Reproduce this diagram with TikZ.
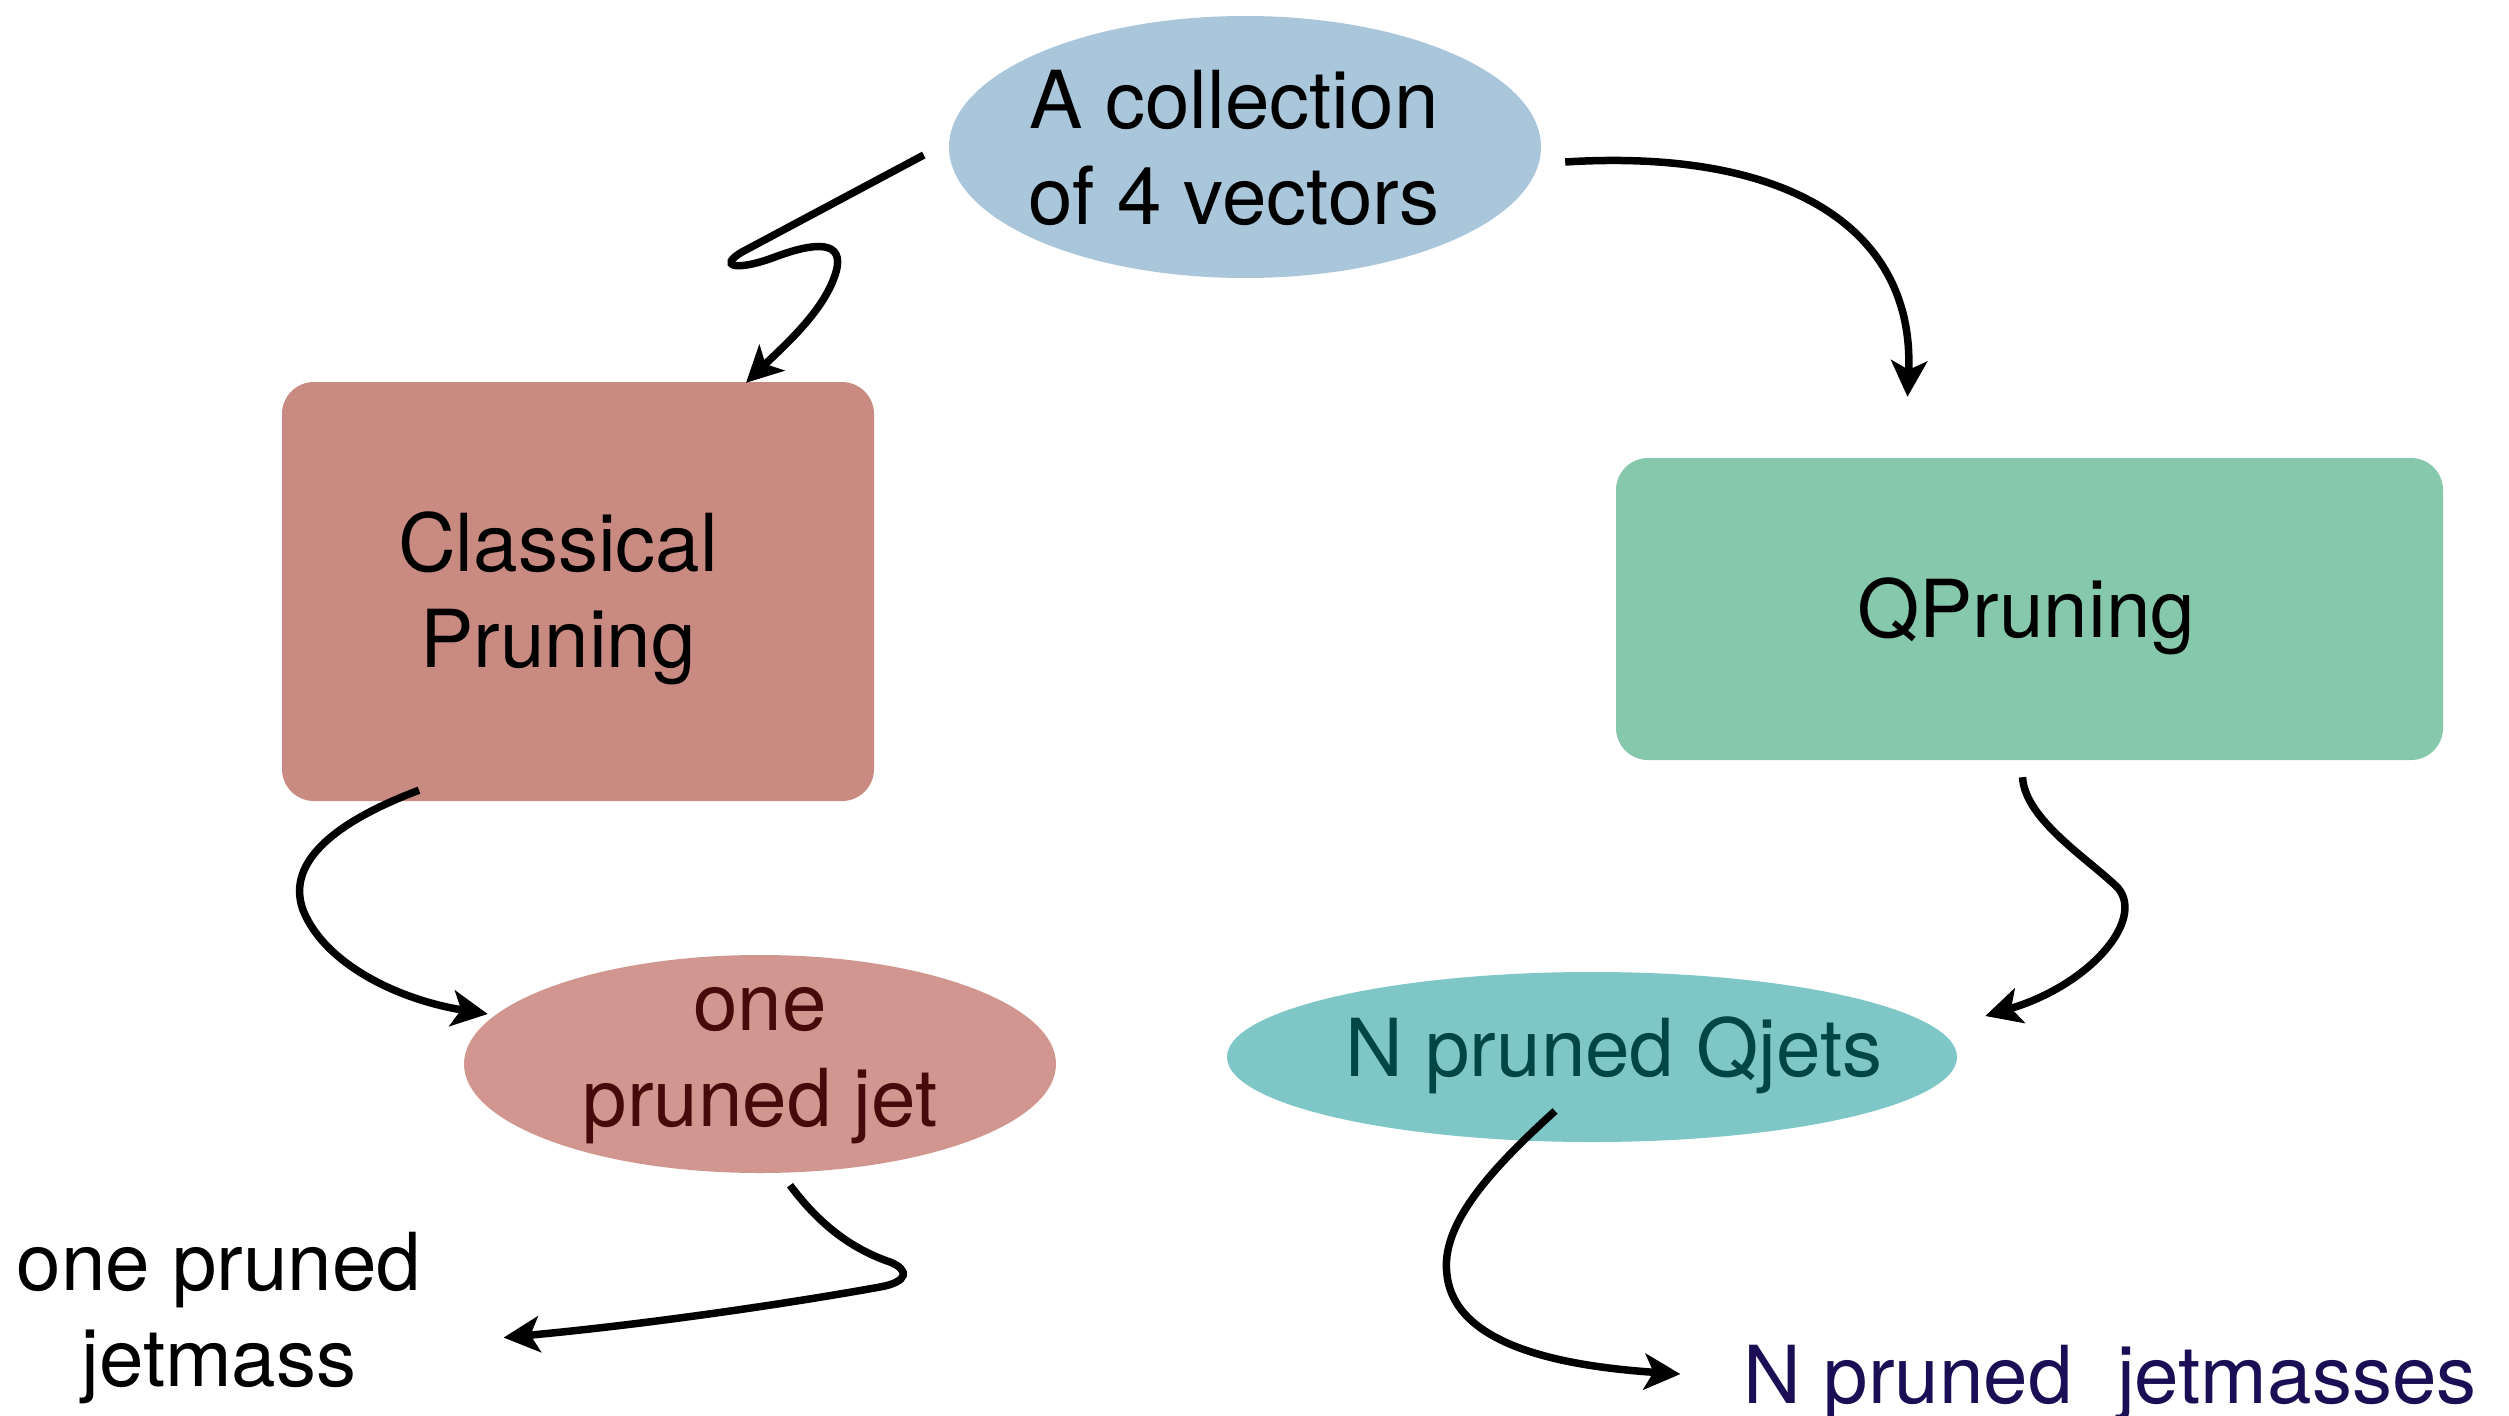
\documentclass[tikz,border=0pt]{standalone}
\usepackage{fontspec}
\setmainfont{TeX Gyre Heros}
\usetikzlibrary{shapes.geometric,arrows.meta,calc}
\definecolor{vecblue}{HTML}{A9C6DB}
\definecolor{classred}{HTML}{C98A81}
\definecolor{qgreen}{HTML}{86C8AB}
\definecolor{jetrose}{HTML}{D29690}
\definecolor{qjteal}{HTML}{7FC7C7}
\definecolor{jettext}{HTML}{470A0A}
\definecolor{qjtext}{HTML}{004646}
\definecolor{masstext}{HTML}{1B0E55}
\begin{document}
\begin{tikzpicture}[x=1pt,y=-1pt,
  txt/.style={font=\fontsize{80}{96}\selectfont, align=center, anchor=base, inner sep=0pt},
  blob/.style={ellipse, inner sep=0pt},
  card/.style={rectangle, rounded corners=32pt, inner sep=0pt},
  flow/.style={line width=7.5pt, -{Stealth[length=36pt,width=36pt,inset=9pt]}}]
\useasboundingbox[fill=white] (0,0) rectangle (2509,1416);

% input (the base of a two-line label is its last line)
\node[blob, fill=vecblue, minimum width=592pt, minimum height=262pt] (vec) at (1245,147) {};
\node[txt] (vectxt) at (1234,224) {A collection\\of 4 vectors};

% the two pruning procedures
\node[card, fill=classred, minimum width=592pt, minimum height=419pt] (cp) at (578,591.5) {};
\node[txt] (cptxt) at (558,667) {Classical\\Pruning};
\node[card, fill=qgreen, minimum width=827pt, minimum height=302pt] (qp) at (2029.5,609) {};
\node[txt] (qptxt) at (2026,637) {QPruning};

% results
\node[blob, fill=jetrose, minimum width=592pt, minimum height=218pt] (jet) at (760,1064) {};
\node[txt, text=jettext] (jettxt) at (760,1126) {one\\pruned jet};
\node[blob, fill=qjteal, minimum width=730pt, minimum height=170pt] (qj) at (1592,1057) {};
\node[txt, text=qjtext] (qjtxt) at (1614,1076) {N pruned Qjets};

% observables
\node[txt] (mass) at (219,1386) {one pruned\\jetmass};
\node[txt, text=masstext] (masses) at (2110,1403) {N pruned~~jetmasses};

% connectors
\draw[flow] ($(vec.west)+(-25,8)$) -- (742,252)
  .. controls (718,266) and (735,272) .. (775,257)
  .. controls (815,242) and (845,240) .. (836,272)
  .. controls (825,310) and (785,345) .. ($(cp.north)+(168,1)$);
\draw[flow] ($(vec.east)+(24,15)$) .. controls (1790,148) and (1915,230) .. ($(qp.north)+(-122,-61)$);
\draw[flow] ($(cp.south)+(-159,-11)$) .. controls (340,820) and (285,860) .. (303,910)
  .. controls (325,965) and (400,1000) .. ($(jet.west)+(24,-50)$);
\draw[flow] ($(jet.south)+(30,12)$) .. controls (822,1228) and (855,1250) .. (890,1262)
  .. controls (910,1270) and (908,1282) .. (880,1287)
  .. controls (780,1305) and (640,1325) .. ($(mass.east)+(82,20)$);
\draw[flow] ($(qp.south)+(-7,17)$) .. controls (2025,820) and (2090,860) .. (2118,888)
  .. controls (2145,920) and (2090,985) .. ($(qj.east)+(28,-41)$);
\draw[flow] ($(qj.center)+(-37,54)$) .. controls (1490,1170) and (1440,1225) .. (1447,1275)
  .. controls (1455,1345) and (1560,1366) .. ($(masses.west)+(-63,-8.5)$);
\end{tikzpicture}
\end{document}
